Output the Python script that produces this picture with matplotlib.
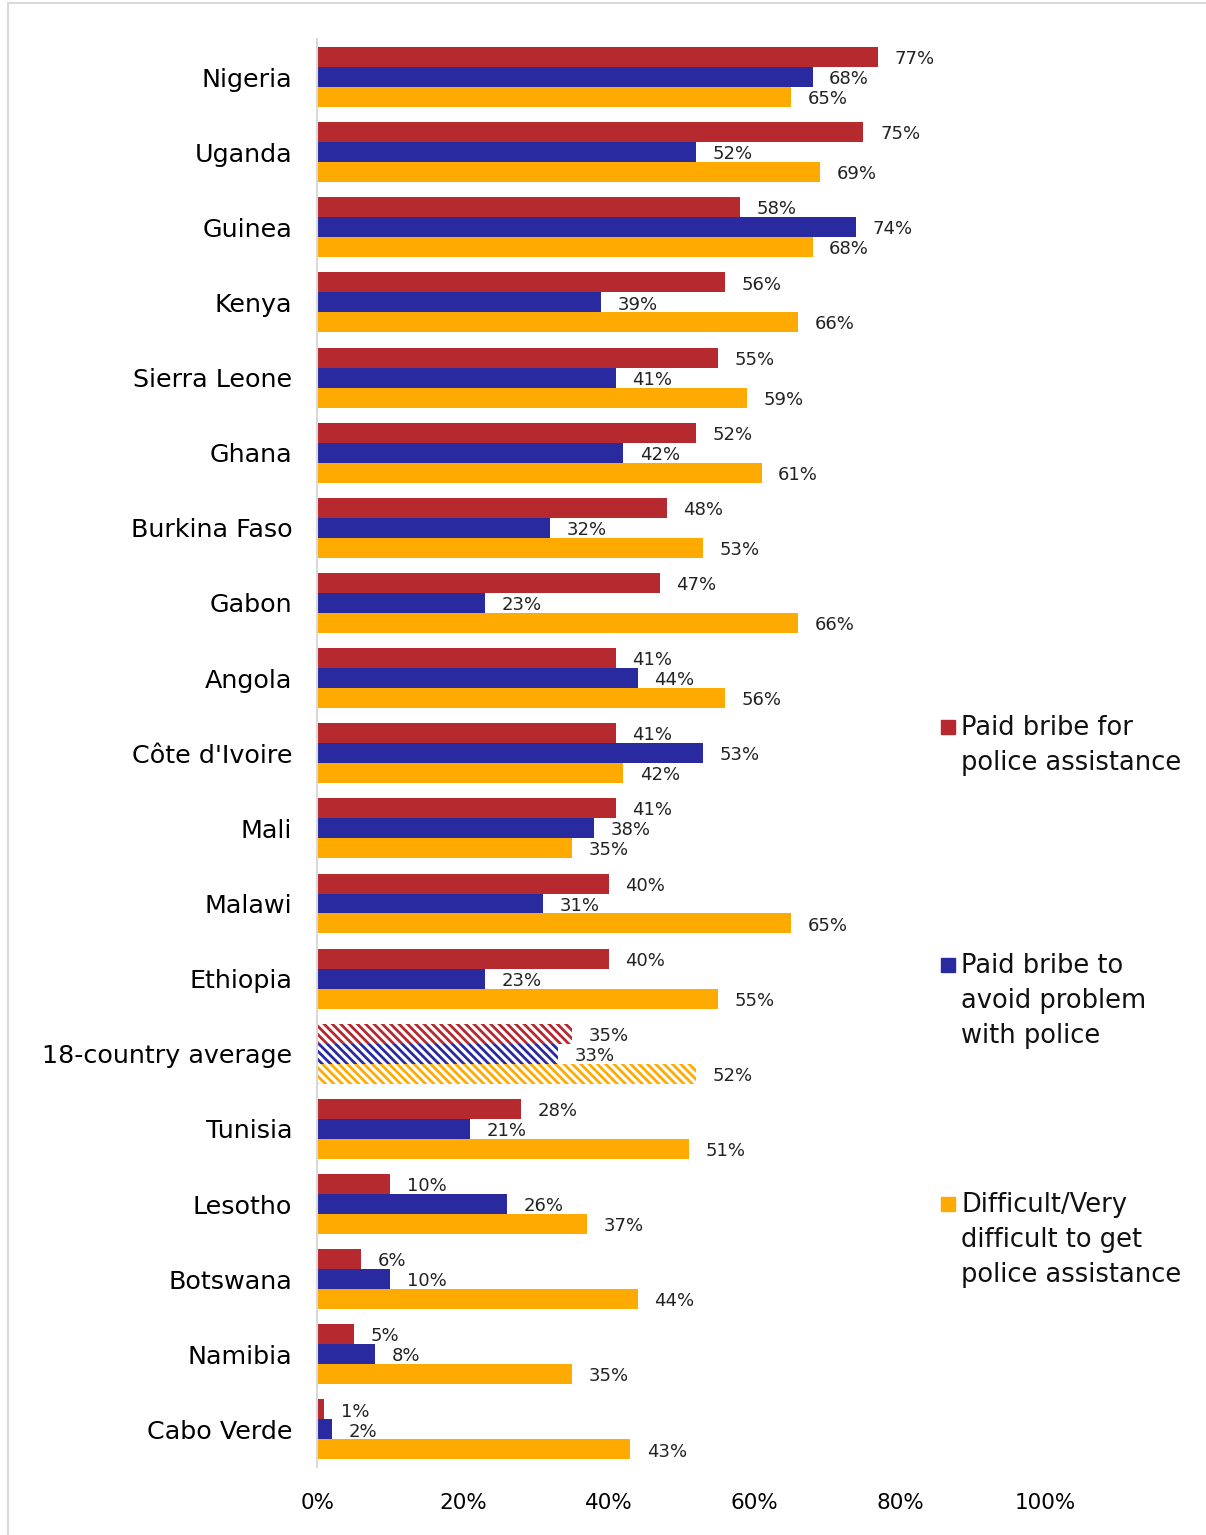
import matplotlib.pyplot as plt
from matplotlib.patches import Rectangle
import numpy as np

# Data
countries = ['Nigeria', 'Uganda', 'Guinea', 'Kenya', 'Sierra Leone', 'Ghana',
             'Burkina Faso', 'Gabon', 'Angola', "Côte d'Ivoire", 'Mali', 'Malawi',
             'Ethiopia', '18-country average', 'Tunisia', 'Lesotho', 'Botswana',
             'Namibia', 'Cabo Verde']
bribe_assist = [77, 75, 58, 56, 55, 52, 48, 47, 41, 41, 41, 40, 40, 35, 28, 10, 6, 5, 1]
bribe_avoid = [68, 52, 74, 39, 41, 42, 32, 23, 44, 53, 38, 31, 23, 33, 21, 26, 10, 8, 2]
difficult = [65, 69, 68, 66, 59, 61, 53, 66, 56, 42, 35, 65, 55, 52, 51, 37, 44, 35, 43]
series_names = ['Paid bribe for\npolice assistance',
                'Paid bribe to\navoid problem\nwith police',
                'Difficult/Very\ndifficult to get\npolice assistance']
colors = ['#B5292F', '#2A2AA0', '#FFAA00']
avg_label = '18-country average'

plt.rcParams['font.family'] = ['DejaVu Sans']
plt.rcParams['hatch.linewidth'] = 2.0

fig = plt.figure(figsize=(12.06, 15.35), dpi=100)
ax = fig.add_axes([0.263, 0.0443, 0.604, 0.930])

y = np.arange(len(countries))
h = 0.266
series = [bribe_assist, bribe_avoid, difficult]
for k, vals in enumerate(series):
    pos = y + (k - 1) * h
    for i, v in enumerate(vals):
        if countries[i] == avg_label:
            # average row drawn with diagonal stripes
            ax.barh(pos[i], v, height=h, color='white', edgecolor=colors[k],
                    hatch='\\' * 4, linewidth=0)
        else:
            ax.barh(pos[i], v, height=h, color=colors[k], linewidth=0)
        ax.annotate(f'{v}%', (v, pos[i]), xytext=(12, -1.5), textcoords='offset points',
                    va='center', ha='left', fontsize=13, color='#222222')

ax.set_xlim(0, 100)
ax.set_ylim(len(countries) - 0.5, -0.5)
ax.set_yticks(y)
ax.set_yticklabels(countries, fontsize=18.3)
ax.set_xticks(np.arange(0, 101, 20))
ax.set_xticklabels([f'{t}%' for t in range(0, 101, 20)], fontsize=15.5)
ax.tick_params(axis='y', length=0, pad=18)
ax.tick_params(axis='x', length=0, pad=19)
for s in ['top', 'right', 'bottom']:
    ax.spines[s].set_visible(False)
ax.spines['left'].set_color('#D9D9D9')
ax.spines['left'].set_linewidth(1.5)

# legend items placed by hand
W, H = 1206, 1535
leg_y = [727, 965, 1204]
for k, name in enumerate(series_names):
    yc = leg_y[k]
    fig.patches.append(Rectangle((941 / W, 1 - (yc + 7) / H), 14 / W, 14 / H,
                                 transform=fig.transFigure, color=colors[k]))
    fig.text(961 / W, 1 - (yc - 12) / H, name, ha='left', va='top',
             fontsize=18.5, linespacing=1.45, color='#111111')

# outer frame
fig.patches.append(Rectangle((8 / W, -0.01), 1.0, 1 - 3 / H + 0.01,
                             transform=fig.transFigure, fill=False,
                             edgecolor='#D9D9D9', linewidth=1.5))

fig.savefig('out.png', dpi=100)
